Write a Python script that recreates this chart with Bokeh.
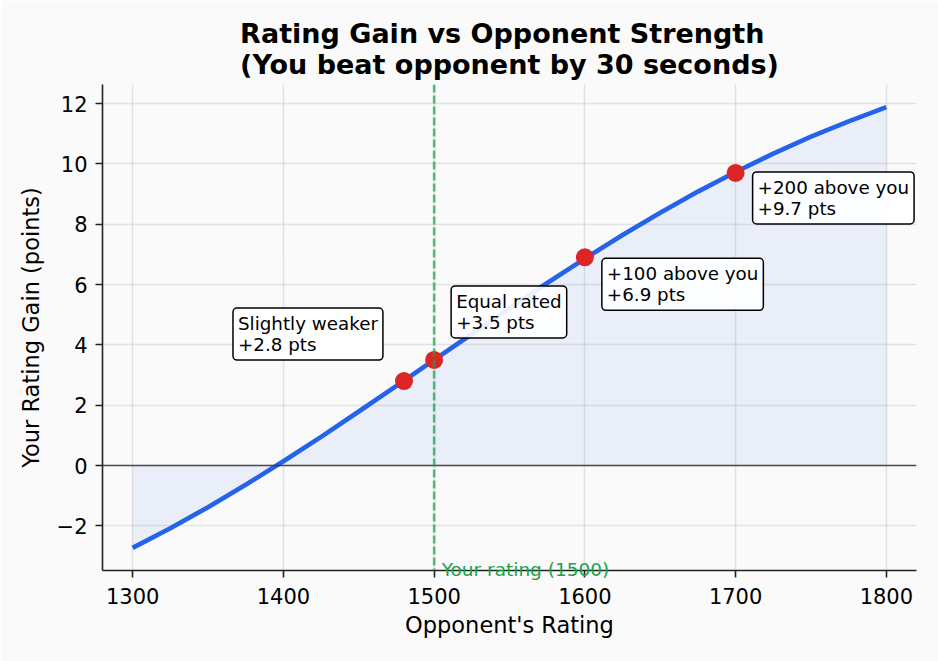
from bokeh.plotting import figure
from bokeh.models import Range1d, FixedTicker, Span, Label
from bokeh.embed import file_html
from bokeh.resources import INLINE

# Rating gain after a win by 30 seconds, against opponents of different strength
ratings = [1300, 1325, 1350, 1375, 1400, 1425, 1450, 1475, 1500, 1525, 1550,
           1575, 1600, 1625, 1650, 1675, 1700, 1725, 1750, 1775, 1800]
gains = [-2.73, -2.08, -1.38, -0.64, 0.14, 0.95, 1.79, 2.64, 3.50, 4.36, 5.21,
         6.05, 6.86, 7.64, 8.38, 9.08, 9.73, 10.34, 10.90, 11.41, 11.88]

# Highlighted opponents
marker_ratings = [1480, 1500, 1600, 1700]
marker_gains = [2.8, 3.5, 6.9, 9.7]
marker_names = ["Slightly weaker", "Equal rated", "+100 above you", "+200 above you"]

your_rating = 1500
x_ticks = [1300, 1400, 1500, 1600, 1700, 1800]
y_ticks = [-2, 0, 2, 4, 6, 8, 10, 12]

FONT = "DejaVu Sans"
BG = "#fafafa"
BLUE = "#2563eb"
RED = "#dc2626"
GREEN = "#16a34a"
INK = "#222222"

p = figure(width=938, height=661, output_backend="svg", toolbar_location=None,
           x_range=Range1d(1280, 1820), y_range=Range1d(-3.48, 12.63),
           min_border_left=102, min_border_right=22,
           min_border_top=84, min_border_bottom=91,
           background_fill_color=BG, border_fill_color=BG,
           outline_line_color=None)

# Title
p.title.text = "Rating Gain vs Opponent Strength\n(You beat opponent by 30 seconds)"
p.title.align = "center"
p.title.text_font = FONT
p.title.text_font_size = "27px"
p.title.text_font_style = "bold"
p.title.text_color = "black"
p.title.text_line_height = 1.0

# Axes
p.xaxis.ticker = FixedTicker(ticks=x_ticks)
p.yaxis.ticker = FixedTicker(ticks=y_ticks)
p.yaxis.major_label_overrides = {t: str(t).replace("-", "\u2212") for t in y_ticks}
p.xaxis.axis_label = "Opponent's Rating"
p.yaxis.axis_label = "Your Rating Gain (points)"
for ax in (p.xaxis, p.yaxis):
    ax.axis_line_color = INK
    ax.axis_line_width = 1.6
    ax.major_tick_line_color = INK
    ax.major_tick_line_width = 1.6
    ax.major_tick_out = 7
    ax.major_tick_in = 0
    ax.minor_tick_line_color = None
    ax.major_label_text_font = FONT
    ax.major_label_text_font_size = "21px"
    ax.major_label_text_color = "black"
    ax.axis_label_text_font = FONT
    ax.axis_label_text_font_size = "22.5px"
    ax.axis_label_text_font_style = "normal"
    ax.axis_label_text_color = "black"
p.xaxis.major_label_standoff = 10
p.yaxis.major_label_standoff = 8
p.xaxis.axis_label_standoff = 5
p.yaxis.axis_label_standoff = 10

# Grid
p.grid.grid_line_color = "#b0b0b0"
p.grid.grid_line_alpha = 0.3
p.grid.grid_line_width = 1.6

# Shaded area between the curve and zero, then the curve itself
p.varea(x=ratings, y1=[0] * len(ratings), y2=gains, fill_color=BLUE, fill_alpha=0.08)

p.add_layout(Span(location=0, dimension="width", line_color="#333333",
                  line_alpha=0.85, line_width=1.6))
p.add_layout(Span(location=your_rating, dimension="height", line_color=GREEN,
                  line_alpha=0.7, line_width=2.6, line_dash="8 3"))

p.line(ratings, gains, line_color=BLUE, line_width=4.6)
p.scatter(marker_ratings, marker_gains, size=18, fill_color=RED, line_color=None)

# Reference rating label under the dashed line; kept in the lower panel so it
# is not cut off at the frame edge
p.add_layout(Label(x=your_rating + 5, y=92, y_units="screen", text=f"Your rating ({your_rating})",
                   text_font=FONT, text_font_size="18.5px", text_color=GREEN,
                   text_align="left", text_baseline="alphabetic"), "below")

# Callout boxes, offset in screen pixels from each highlighted point
offsets = [(-171, 73), (17, 74), (17, -1), (17, 1)]
for name, r, g, (dx, dy) in zip(marker_names, marker_ratings, marker_gains, offsets):
    p.add_layout(Label(x=r, y=g, x_offset=dx, y_offset=dy, anchor="top_left",
                       text=f"{name}\n{g:+.1f} pts",
                       text_font=FONT, text_font_size="18.3px", text_color="black",
                       text_line_height=1.0, padding=5, border_radius=4,
                       background_fill_color="white", background_fill_alpha=0.9,
                       border_line_color="black", border_line_width=1.5))

open("out.html", "w").write(file_html(p, INLINE))
